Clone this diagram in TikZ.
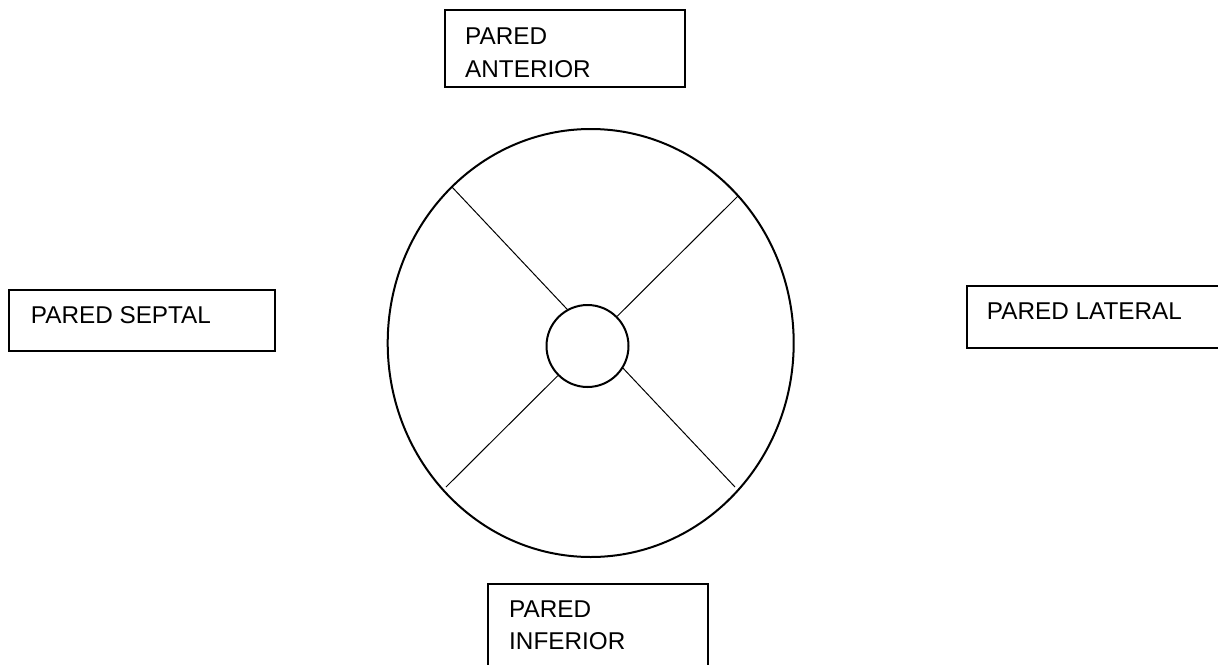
\documentclass[tikz,border=0pt]{standalone}
\usepackage{fontspec}
\setmainfont{Liberation Sans}
\usetikzlibrary{shapes.geometric}
\begin{document}
\begin{tikzpicture}[x=1pt,y=-1pt,
  wallbox/.style={draw, line width=1.5pt, rectangle, inner sep=0pt},
  label/.style={anchor=base west, inner sep=0pt, font=\fontsize{24.3}{33}\selectfont, align=left},
  thick line/.style={line width=2pt},
  spoke/.style={line width=1pt}]
\useasboundingbox (0,0) rectangle (1218,664);
\clip (0,0) rectangle (1218,664);
\fill[white] (0,0) rectangle (1218,664);
% boxes
\node[wallbox, minimum width=240pt, minimum height=77pt] (antbox) at (565,48.5) {};
\node[wallbox, minimum width=266pt, minimum height=61pt] (sepbox) at (142,320.5) {};
\node[wallbox, minimum width=263pt, minimum height=62pt] (latbox) at (1098.5,317) {};
\node[wallbox, minimum width=220pt, minimum height=96pt] (infbox) at (598,632) {};
% labels
\node[label] (ant1) at (465,44) {PARED};
\node[label] (ant2) at (465,77) {ANTERIOR};
\node[label] (sep) at (30.7,323) {PARED SEPTAL};
\node[label] (lat) at (986.7,319) {PARED LATERAL};
\node[label] (inf1) at (509,617.7) {PARED};
\node[label] (inf2) at (509,649) {INFERIOR};
% ellipse and hub
\node[draw, thick line, ellipse, minimum width=406pt, minimum height=428pt, inner sep=0pt] (wall) at (590.7,343) {};
\node[draw, thick line, circle, minimum size=82pt, inner sep=0pt] (hub) at (587.5,346) {};
% spokes
\coordinate (ul) at (452,187);
\coordinate (ur) at (738,196);
\coordinate (ll) at (446,487);
\coordinate (lr) at (735,487);
\draw[spoke] (ul) -- (hub.119);
\draw[spoke] (ur) -- (hub.45);
\draw[spoke] (ll) -- (hub.225);
\draw[spoke] (lr) -- (hub.-32);
\end{tikzpicture}
\end{document}
